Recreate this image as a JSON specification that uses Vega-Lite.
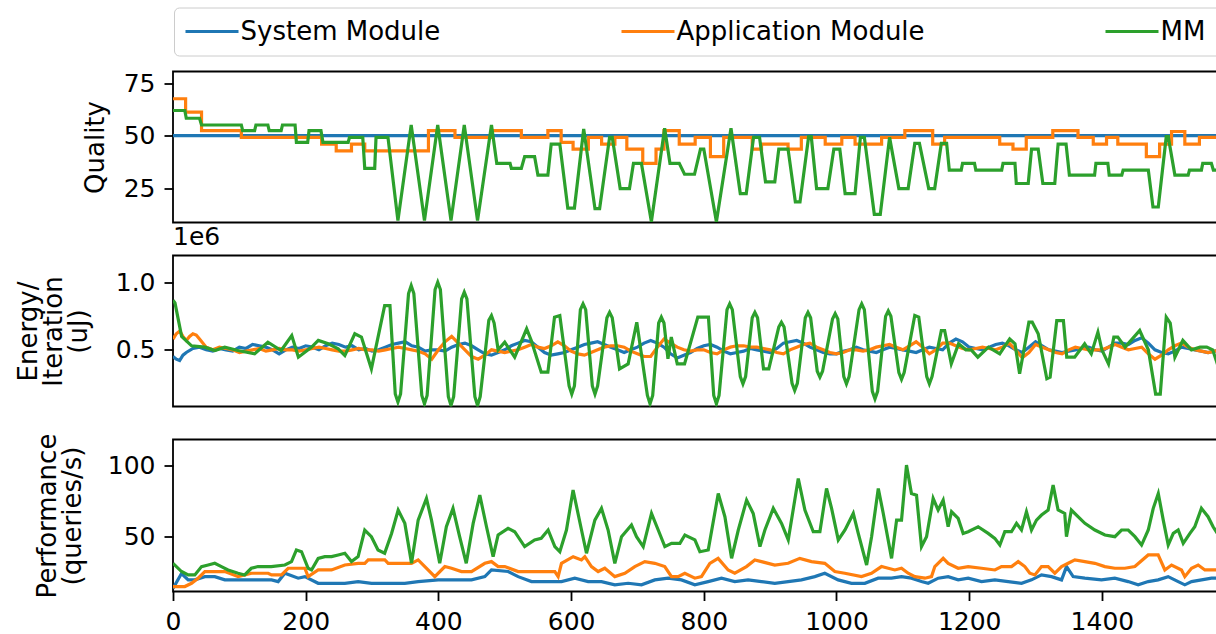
{
"$schema": "https://vega.github.io/schema/vega-lite/v6.json",
"background": "white",
"padding": {"left": 14, "top": 5.5, "right": 0, "bottom": 10},
"config": {
  "font": "DejaVu Sans",
  "view": {"stroke": "black", "strokeWidth": 1.8},
  "axis": {"labelFont": "DejaVu Sans", "labelFontSize": 25, "labelColor": "black", "titleFont": "DejaVu Sans", "titleFontSize": 26, "titleFontWeight": "normal", "titleColor": "black", "tickColor": "black", "tickSize": 9, "tickWidth": 1.8, "domain": false, "grid": false, "labelPadding": 9, "titlePadding": 14, "labelFlush": false, "labelOverlap": false},
  "line": {"strokeWidth": 3.2}
},
"bounds": "flush",
"spacing": 33,
"resolve": {"scale": {"color": "independent"}, "legend": {"color": "independent"}},
"datasets": {
  "qS": [{"x":0,"y":50},{"x":1600,"y":50}],
  "qA": [{"x":0,"y":67.6},{"x":19,"y":61.2},{"x":43,"y":52.4},{"x":103,"y":49.2},{"x":224,"y":46},{"x":246,"y":42.8},{"x":269,"y":46},{"x":289,"y":42.8},{"x":385,"y":52.4},{"x":425,"y":49.2},{"x":480,"y":52.4},{"x":525,"y":49.2},{"x":565,"y":52.4},{"x":585,"y":46.8},{"x":603,"y":43.6},{"x":626,"y":49.2},{"x":646,"y":46},{"x":666,"y":49.2},{"x":684,"y":43.6},{"x":708,"y":36.8},{"x":728,"y":43.6},{"x":740,"y":52.4},{"x":763,"y":46},{"x":787,"y":49.2},{"x":810,"y":40},{"x":830,"y":49.2},{"x":873,"y":43.6},{"x":887,"y":46},{"x":927,"y":43.6},{"x":947,"y":49.2},{"x":983,"y":46},{"x":1008,"y":49.2},{"x":1028,"y":46},{"x":1068,"y":49.2},{"x":1103,"y":52.4},{"x":1145,"y":46},{"x":1163,"y":49.2},{"x":1246,"y":46},{"x":1266,"y":43.6},{"x":1286,"y":49.2},{"x":1326,"y":52.4},{"x":1364,"y":49.2},{"x":1387,"y":46},{"x":1407,"y":49.2},{"x":1424,"y":46},{"x":1467,"y":40},{"x":1487,"y":46},{"x":1505,"y":52},{"x":1525,"y":46},{"x":1547,"y":49.2},{"x":1600,"y":49.2}],
  "qM": [{"x":0,"y":62},{"x":17.8,"y":62},{"x":20,"y":58.3},{"x":40,"y":58.3},{"x":43,"y":55.1},{"x":103,"y":55.1},{"x":105,"y":52.4},{"x":123,"y":52.4},{"x":125,"y":55.1},{"x":143,"y":55.1},{"x":145,"y":52.4},{"x":163,"y":52.4},{"x":165,"y":55.1},{"x":184,"y":55.1},{"x":186,"y":46.8},{"x":203,"y":46.8},{"x":205,"y":52.4},{"x":223,"y":52.4},{"x":226,"y":46.8},{"x":264,"y":46.8},{"x":266,"y":49.2},{"x":286,"y":49.2},{"x":289,"y":34.4},{"x":304,"y":34.4},{"x":306,"y":49.2},{"x":324,"y":49.2},{"x":339,"y":9.5},{"x":359,"y":55.1},{"x":379,"y":9.5},{"x":399,"y":55.1},{"x":419,"y":9.5},{"x":439,"y":55.1},{"x":459,"y":9.5},{"x":480,"y":55.1},{"x":488,"y":36.8},{"x":508,"y":36.8},{"x":510,"y":34.4},{"x":525,"y":34.4},{"x":530,"y":40},{"x":545,"y":40},{"x":550,"y":31.2},{"x":565,"y":31.2},{"x":570,"y":46},{"x":583,"y":46},{"x":595,"y":15.5},{"x":605,"y":15.5},{"x":619,"y":53.2},{"x":636,"y":15.2},{"x":643,"y":15.2},{"x":658,"y":49.2},{"x":662,"y":49.2},{"x":674,"y":24.8},{"x":688,"y":24.8},{"x":694,"y":36.8},{"x":706,"y":36.8},{"x":721,"y":9},{"x":741,"y":53.5},{"x":749,"y":36.8},{"x":763,"y":36.8},{"x":771,"y":31.6},{"x":786,"y":31.6},{"x":795,"y":43.6},{"x":800,"y":43.6},{"x":819,"y":9},{"x":841,"y":53.5},{"x":855,"y":22.4},{"x":864,"y":22.4},{"x":875,"y":49.2},{"x":884,"y":49.2},{"x":893,"y":28},{"x":907,"y":28},{"x":913,"y":43.6},{"x":927,"y":43.6},{"x":938,"y":18.4},{"x":945,"y":18.4},{"x":958,"y":49.5},{"x":962,"y":49.5},{"x":970,"y":24.8},{"x":987,"y":24.8},{"x":996,"y":43.6},{"x":1005,"y":43.6},{"x":1013,"y":22.4},{"x":1028,"y":22.4},{"x":1036,"y":49.2},{"x":1042,"y":49.2},{"x":1057,"y":12.5},{"x":1066,"y":12.5},{"x":1080,"y":49.2},{"x":1094,"y":24.8},{"x":1108,"y":24.8},{"x":1118,"y":46.3},{"x":1125,"y":46.3},{"x":1139,"y":24.8},{"x":1148,"y":24.8},{"x":1158,"y":46.3},{"x":1166,"y":46.3},{"x":1170,"y":33.6},{"x":1188,"y":33.6},{"x":1190,"y":36.8},{"x":1208,"y":36.8},{"x":1210,"y":33.6},{"x":1249,"y":33.6},{"x":1251,"y":36.8},{"x":1269,"y":36.8},{"x":1271,"y":27.2},{"x":1289,"y":27.2},{"x":1294,"y":43.6},{"x":1304,"y":43.6},{"x":1311,"y":27.2},{"x":1329,"y":27.2},{"x":1334,"y":46},{"x":1346,"y":46},{"x":1351,"y":31.2},{"x":1389,"y":31.2},{"x":1391,"y":36.8},{"x":1409,"y":36.8},{"x":1411,"y":31.2},{"x":1430,"y":31.2},{"x":1432,"y":33.6},{"x":1470,"y":33.6},{"x":1477,"y":16},{"x":1485,"y":16},{"x":1497,"y":49.5},{"x":1500,"y":49.5},{"x":1510,"y":31.2},{"x":1530,"y":31.2},{"x":1532,"y":33.6},{"x":1550,"y":33.6},{"x":1552,"y":36.8},{"x":1565,"y":36.8},{"x":1568,"y":33.6},{"x":1600,"y":33.6}],
  "eS": [{"x":0,"y":450000},{"x":5,"y":430000},{"x":10,"y":420000},{"x":15,"y":460000},{"x":20,"y":480000},{"x":30,"y":510000},{"x":40,"y":520000},{"x":50,"y":500000},{"x":60,"y":490000},{"x":70,"y":510000},{"x":80,"y":500000},{"x":90,"y":490000},{"x":100,"y":520000},{"x":110,"y":510000},{"x":120,"y":540000},{"x":130,"y":530000},{"x":140,"y":520000},{"x":150,"y":500000},{"x":160,"y":470000},{"x":170,"y":500000},{"x":180,"y":520000},{"x":190,"y":510000},{"x":200,"y":530000},{"x":210,"y":520000},{"x":220,"y":500000},{"x":230,"y":530000},{"x":240,"y":550000},{"x":250,"y":540000},{"x":260,"y":520000},{"x":270,"y":530000},{"x":280,"y":500000},{"x":290,"y":510000},{"x":300,"y":490000},{"x":310,"y":500000},{"x":320,"y":520000},{"x":330,"y":540000},{"x":340,"y":550000},{"x":350,"y":560000},{"x":360,"y":530000},{"x":370,"y":520000},{"x":380,"y":490000},{"x":390,"y":500000},{"x":400,"y":500000},{"x":410,"y":490000},{"x":420,"y":520000},{"x":430,"y":540000},{"x":440,"y":550000},{"x":450,"y":530000},{"x":460,"y":500000},{"x":470,"y":470000},{"x":480,"y":460000},{"x":490,"y":480000},{"x":500,"y":500000},{"x":510,"y":530000},{"x":520,"y":550000},{"x":530,"y":570000},{"x":540,"y":560000},{"x":550,"y":520000},{"x":560,"y":480000},{"x":570,"y":460000},{"x":580,"y":470000},{"x":590,"y":480000},{"x":600,"y":500000},{"x":610,"y":520000},{"x":620,"y":540000},{"x":630,"y":550000},{"x":640,"y":560000},{"x":650,"y":540000},{"x":660,"y":520000},{"x":670,"y":500000},{"x":680,"y":480000},{"x":690,"y":500000},{"x":700,"y":520000},{"x":710,"y":550000},{"x":720,"y":570000},{"x":730,"y":550000},{"x":740,"y":520000},{"x":750,"y":470000},{"x":760,"y":440000},{"x":770,"y":460000},{"x":780,"y":480000},{"x":790,"y":510000},{"x":800,"y":530000},{"x":810,"y":540000},{"x":820,"y":520000},{"x":830,"y":490000},{"x":840,"y":470000},{"x":850,"y":480000},{"x":860,"y":490000},{"x":870,"y":510000},{"x":880,"y":500000},{"x":890,"y":490000},{"x":900,"y":480000},{"x":910,"y":510000},{"x":920,"y":550000},{"x":930,"y":560000},{"x":940,"y":570000},{"x":950,"y":550000},{"x":960,"y":520000},{"x":970,"y":500000},{"x":980,"y":480000},{"x":990,"y":470000},{"x":1000,"y":470000},{"x":1010,"y":490000},{"x":1020,"y":500000},{"x":1030,"y":520000},{"x":1040,"y":500000},{"x":1050,"y":490000},{"x":1060,"y":480000},{"x":1070,"y":500000},{"x":1080,"y":520000},{"x":1090,"y":510000},{"x":1100,"y":500000},{"x":1110,"y":490000},{"x":1120,"y":480000},{"x":1130,"y":500000},{"x":1140,"y":520000},{"x":1150,"y":510000},{"x":1160,"y":500000},{"x":1170,"y":550000},{"x":1180,"y":580000},{"x":1190,"y":560000},{"x":1200,"y":520000},{"x":1210,"y":510000},{"x":1220,"y":500000},{"x":1230,"y":520000},{"x":1240,"y":540000},{"x":1250,"y":550000},{"x":1260,"y":530000},{"x":1270,"y":500000},{"x":1280,"y":480000},{"x":1290,"y":520000},{"x":1300,"y":560000},{"x":1310,"y":530000},{"x":1320,"y":500000},{"x":1330,"y":490000},{"x":1340,"y":480000},{"x":1350,"y":490000},{"x":1360,"y":500000},{"x":1370,"y":510000},{"x":1380,"y":520000},{"x":1390,"y":500000},{"x":1400,"y":490000},{"x":1410,"y":520000},{"x":1420,"y":550000},{"x":1430,"y":550000},{"x":1440,"y":540000},{"x":1450,"y":570000},{"x":1460,"y":590000},{"x":1470,"y":550000},{"x":1480,"y":500000},{"x":1490,"y":480000},{"x":1500,"y":470000},{"x":1510,"y":490000},{"x":1520,"y":520000},{"x":1530,"y":510000},{"x":1540,"y":500000},{"x":1550,"y":490000},{"x":1560,"y":480000},{"x":1570,"y":490000},{"x":1580,"y":500000},{"x":1600,"y":500000}],
  "eA": [{"x":0,"y":580000},{"x":5,"y":620000},{"x":10,"y":640000},{"x":15,"y":600000},{"x":20,"y":570000},{"x":25,"y":600000},{"x":30,"y":620000},{"x":35,"y":610000},{"x":40,"y":580000},{"x":50,"y":520000},{"x":60,"y":500000},{"x":70,"y":520000},{"x":80,"y":510000},{"x":90,"y":500000},{"x":100,"y":480000},{"x":110,"y":490000},{"x":120,"y":500000},{"x":130,"y":510000},{"x":140,"y":490000},{"x":150,"y":500000},{"x":160,"y":510000},{"x":170,"y":500000},{"x":180,"y":500000},{"x":190,"y":490000},{"x":200,"y":500000},{"x":210,"y":510000},{"x":220,"y":520000},{"x":230,"y":510000},{"x":240,"y":500000},{"x":250,"y":490000},{"x":260,"y":490000},{"x":270,"y":500000},{"x":280,"y":510000},{"x":290,"y":500000},{"x":300,"y":500000},{"x":310,"y":490000},{"x":320,"y":500000},{"x":330,"y":510000},{"x":340,"y":520000},{"x":350,"y":510000},{"x":360,"y":500000},{"x":370,"y":490000},{"x":380,"y":470000},{"x":390,"y":430000},{"x":400,"y":500000},{"x":410,"y":560000},{"x":420,"y":600000},{"x":430,"y":550000},{"x":440,"y":500000},{"x":450,"y":450000},{"x":460,"y":430000},{"x":470,"y":460000},{"x":480,"y":500000},{"x":490,"y":490000},{"x":500,"y":480000},{"x":510,"y":490000},{"x":520,"y":500000},{"x":530,"y":520000},{"x":540,"y":540000},{"x":550,"y":520000},{"x":560,"y":510000},{"x":570,"y":530000},{"x":580,"y":560000},{"x":590,"y":530000},{"x":600,"y":490000},{"x":610,"y":470000},{"x":620,"y":460000},{"x":630,"y":480000},{"x":640,"y":500000},{"x":650,"y":520000},{"x":660,"y":530000},{"x":670,"y":530000},{"x":680,"y":520000},{"x":690,"y":490000},{"x":700,"y":470000},{"x":710,"y":450000},{"x":720,"y":450000},{"x":730,"y":520000},{"x":740,"y":580000},{"x":750,"y":550000},{"x":760,"y":520000},{"x":770,"y":500000},{"x":780,"y":490000},{"x":790,"y":500000},{"x":800,"y":500000},{"x":810,"y":480000},{"x":820,"y":470000},{"x":830,"y":500000},{"x":840,"y":520000},{"x":850,"y":530000},{"x":860,"y":530000},{"x":870,"y":520000},{"x":880,"y":520000},{"x":890,"y":510000},{"x":900,"y":500000},{"x":910,"y":480000},{"x":920,"y":470000},{"x":930,"y":500000},{"x":940,"y":520000},{"x":950,"y":540000},{"x":960,"y":550000},{"x":970,"y":520000},{"x":980,"y":500000},{"x":990,"y":480000},{"x":1000,"y":470000},{"x":1010,"y":480000},{"x":1020,"y":500000},{"x":1030,"y":500000},{"x":1040,"y":490000},{"x":1050,"y":500000},{"x":1060,"y":520000},{"x":1070,"y":530000},{"x":1080,"y":540000},{"x":1090,"y":520000},{"x":1100,"y":500000},{"x":1110,"y":530000},{"x":1120,"y":560000},{"x":1130,"y":520000},{"x":1140,"y":470000},{"x":1150,"y":500000},{"x":1160,"y":550000},{"x":1170,"y":550000},{"x":1180,"y":530000},{"x":1190,"y":510000},{"x":1200,"y":500000},{"x":1210,"y":510000},{"x":1220,"y":520000},{"x":1230,"y":510000},{"x":1240,"y":500000},{"x":1250,"y":520000},{"x":1260,"y":550000},{"x":1270,"y":500000},{"x":1280,"y":440000},{"x":1290,"y":480000},{"x":1300,"y":540000},{"x":1310,"y":520000},{"x":1320,"y":500000},{"x":1330,"y":480000},{"x":1340,"y":470000},{"x":1350,"y":500000},{"x":1360,"y":520000},{"x":1370,"y":510000},{"x":1380,"y":500000},{"x":1390,"y":500000},{"x":1400,"y":500000},{"x":1410,"y":520000},{"x":1420,"y":540000},{"x":1430,"y":520000},{"x":1440,"y":500000},{"x":1450,"y":510000},{"x":1460,"y":520000},{"x":1470,"y":470000},{"x":1480,"y":430000},{"x":1490,"y":460000},{"x":1500,"y":500000},{"x":1510,"y":530000},{"x":1520,"y":550000},{"x":1530,"y":520000},{"x":1540,"y":500000},{"x":1550,"y":490000},{"x":1560,"y":480000},{"x":1570,"y":490000},{"x":1580,"y":500000},{"x":1600,"y":500000}],
  "eM": [{"x":0,"y":870000},{"x":3,"y":850000},{"x":13,"y":600000},{"x":28,"y":530000},{"x":48,"y":520000},{"x":63,"y":495000},{"x":78,"y":520000},{"x":98,"y":495000},{"x":123,"y":470000},{"x":143,"y":557000},{"x":163,"y":495000},{"x":179,"y":607000},{"x":189,"y":445000},{"x":209,"y":520000},{"x":219,"y":570000},{"x":234,"y":545000},{"x":249,"y":507000},{"x":259,"y":457000},{"x":274,"y":620000},{"x":284,"y":595000},{"x":299,"y":358000},{"x":319,"y":830000},{"x":327,"y":830000},{"x":335,"y":170000},{"x":339,"y":110000},{"x":343,"y":170000},{"x":355,"y":920000},{"x":359,"y":980000},{"x":363,"y":920000},{"x":375,"y":160000},{"x":379,"y":97000},{"x":383,"y":160000},{"x":395,"y":950000},{"x":399,"y":1005000},{"x":403,"y":950000},{"x":415,"y":150000},{"x":419,"y":85000},{"x":423,"y":150000},{"x":435,"y":880000},{"x":439,"y":930000},{"x":443,"y":880000},{"x":455,"y":150000},{"x":459,"y":85000},{"x":463,"y":150000},{"x":476,"y":720000},{"x":480,"y":756000},{"x":484,"y":700000},{"x":490,"y":500000},{"x":500,"y":557000},{"x":515,"y":445000},{"x":533,"y":657000},{"x":540,"y":570000},{"x":555,"y":333000},{"x":565,"y":333000},{"x":575,"y":744000},{"x":583,"y":756000},{"x":597,"y":230000},{"x":601,"y":170000},{"x":605,"y":230000},{"x":614,"y":800000},{"x":618,"y":843000},{"x":622,"y":800000},{"x":632,"y":230000},{"x":636,"y":170000},{"x":640,"y":230000},{"x":654,"y":740000},{"x":658,"y":780000},{"x":662,"y":740000},{"x":673,"y":358000},{"x":686,"y":395000},{"x":699,"y":706000},{"x":715,"y":160000},{"x":719,"y":97000},{"x":723,"y":160000},{"x":732,"y":700000},{"x":736,"y":744000},{"x":740,"y":700000},{"x":746,"y":433000},{"x":751,"y":595000},{"x":760,"y":395000},{"x":771,"y":395000},{"x":791,"y":744000},{"x":807,"y":744000},{"x":815,"y":160000},{"x":819,"y":97000},{"x":823,"y":160000},{"x":835,"y":800000},{"x":839,"y":843000},{"x":843,"y":800000},{"x":855,"y":300000},{"x":859,"y":246000},{"x":863,"y":300000},{"x":873,"y":740000},{"x":877,"y":780000},{"x":881,"y":740000},{"x":890,"y":358000},{"x":898,"y":358000},{"x":913,"y":670000},{"x":917,"y":706000},{"x":921,"y":670000},{"x":933,"y":250000},{"x":937,"y":197000},{"x":941,"y":250000},{"x":953,"y":740000},{"x":957,"y":780000},{"x":961,"y":740000},{"x":971,"y":340000},{"x":975,"y":296000},{"x":979,"y":340000},{"x":994,"y":730000},{"x":998,"y":770000},{"x":1002,"y":730000},{"x":1011,"y":300000},{"x":1015,"y":246000},{"x":1019,"y":300000},{"x":1034,"y":800000},{"x":1038,"y":843000},{"x":1042,"y":800000},{"x":1054,"y":190000},{"x":1058,"y":134000},{"x":1062,"y":190000},{"x":1074,"y":750000},{"x":1078,"y":790000},{"x":1082,"y":750000},{"x":1094,"y":330000},{"x":1098,"y":280000},{"x":1102,"y":330000},{"x":1118,"y":756000},{"x":1124,"y":744000},{"x":1136,"y":300000},{"x":1140,"y":246000},{"x":1144,"y":300000},{"x":1158,"y":644000},{"x":1163,"y":644000},{"x":1173,"y":395000},{"x":1184,"y":545000},{"x":1195,"y":500000},{"x":1203,"y":500000},{"x":1213,"y":445000},{"x":1229,"y":520000},{"x":1246,"y":470000},{"x":1261,"y":582000},{"x":1269,"y":545000},{"x":1276,"y":321000},{"x":1290,"y":706000},{"x":1295,"y":706000},{"x":1304,"y":620000},{"x":1317,"y":284000},{"x":1322,"y":296000},{"x":1332,"y":718000},{"x":1342,"y":718000},{"x":1347,"y":445000},{"x":1359,"y":445000},{"x":1374,"y":545000},{"x":1384,"y":470000},{"x":1394,"y":632000},{"x":1400,"y":500000},{"x":1410,"y":395000},{"x":1418,"y":595000},{"x":1424,"y":595000},{"x":1435,"y":520000},{"x":1457,"y":644000},{"x":1470,"y":500000},{"x":1481,"y":170000},{"x":1488,"y":170000},{"x":1497,"y":744000},{"x":1503,"y":700000},{"x":1510,"y":445000},{"x":1522,"y":570000},{"x":1535,"y":500000},{"x":1548,"y":520000},{"x":1558,"y":520000},{"x":1567,"y":500000},{"x":1574,"y":395000},{"x":1590,"y":400000},{"x":1600,"y":420000}],
  "pS": [{"x":0,"y":13.5},{"x":12.8,"y":24},{"x":22.9,"y":19.5},{"x":32.9,"y":19.5},{"x":48,"y":21.8},{"x":63,"y":21.8},{"x":78.1,"y":19.5},{"x":98.2,"y":19.5},{"x":148.5,"y":19.5},{"x":158.5,"y":18.3},{"x":168.6,"y":24.2},{"x":188.7,"y":20.7},{"x":198.7,"y":21.8},{"x":218.8,"y":17.1},{"x":259,"y":17.1},{"x":279.1,"y":18.3},{"x":299.2,"y":17.1},{"x":349.4,"y":17.1},{"x":369.5,"y":18.3},{"x":399.7,"y":19.5},{"x":449.9,"y":19.5},{"x":470,"y":21.8},{"x":480,"y":26.5},{"x":505.2,"y":25.4},{"x":520.2,"y":21.8},{"x":540.3,"y":18.3},{"x":575.5,"y":18.3},{"x":585.5,"y":18.3},{"x":605.6,"y":20.7},{"x":625.7,"y":18.3},{"x":645.8,"y":18.3},{"x":665.9,"y":16},{"x":686,"y":17.1},{"x":706.1,"y":16},{"x":726.2,"y":19.5},{"x":746.3,"y":20.7},{"x":766.4,"y":19.5},{"x":786.5,"y":16},{"x":806.6,"y":18.3},{"x":826.7,"y":20.7},{"x":846.7,"y":18.3},{"x":866.8,"y":19.5},{"x":886.9,"y":18.3},{"x":907,"y":17.1},{"x":927.1,"y":18.3},{"x":947.2,"y":19.5},{"x":967.3,"y":21.8},{"x":982.4,"y":24.2},{"x":1002.5,"y":19.5},{"x":1022.6,"y":17.1},{"x":1042.7,"y":17.1},{"x":1062.8,"y":20.7},{"x":1082.9,"y":20.7},{"x":1098,"y":21.8},{"x":1113,"y":20.7},{"x":1128.1,"y":18.3},{"x":1138.2,"y":17.1},{"x":1153.3,"y":20.7},{"x":1168.3,"y":21.8},{"x":1183.4,"y":19.5},{"x":1198.5,"y":20.7},{"x":1218.6,"y":18.3},{"x":1238.7,"y":19.5},{"x":1258.8,"y":18.3},{"x":1278.9,"y":17.1},{"x":1293.9,"y":19.5},{"x":1309,"y":23},{"x":1324.1,"y":21.8},{"x":1339.2,"y":19.5},{"x":1346.7,"y":28.9},{"x":1356.7,"y":21.8},{"x":1374.3,"y":20.7},{"x":1399.4,"y":19.5},{"x":1419.5,"y":20.7},{"x":1439.6,"y":18.3},{"x":1454.7,"y":16},{"x":1469.8,"y":18.3},{"x":1484.8,"y":19.5},{"x":1499.9,"y":21.8},{"x":1515,"y":18.3},{"x":1525,"y":16},{"x":1535.1,"y":18.3},{"x":1550.2,"y":19.5},{"x":1565.2,"y":20.7},{"x":1574.3,"y":20.7},{"x":1600,"y":20}],
  "pA": [{"x":0,"y":14.8},{"x":17.8,"y":14.8},{"x":27.9,"y":17.1},{"x":37.9,"y":20.7},{"x":48,"y":25.4},{"x":78.1,"y":25.4},{"x":98.2,"y":21.8},{"x":118.3,"y":24.2},{"x":143.4,"y":24.2},{"x":148.5,"y":23},{"x":163.5,"y":23},{"x":173.6,"y":27.7},{"x":198.7,"y":27.7},{"x":203.7,"y":21.8},{"x":218.8,"y":26.5},{"x":238.9,"y":26.5},{"x":259,"y":30},{"x":279.1,"y":31.2},{"x":289.1,"y":31.2},{"x":294.2,"y":33.6},{"x":319.3,"y":33.6},{"x":324.3,"y":31.2},{"x":359.5,"y":31.2},{"x":369.5,"y":33.6},{"x":394.6,"y":21.8},{"x":409.7,"y":28.9},{"x":419.8,"y":27.7},{"x":434.8,"y":25.4},{"x":449.9,"y":25.4},{"x":470,"y":31.2},{"x":480,"y":32.4},{"x":490.1,"y":28.9},{"x":500.1,"y":28.9},{"x":520.2,"y":25.4},{"x":575.5,"y":25.4},{"x":580.5,"y":21.8},{"x":585.5,"y":31.2},{"x":603.1,"y":35.9},{"x":615.6,"y":33.6},{"x":620.7,"y":35.9},{"x":630.7,"y":28.9},{"x":640.8,"y":25.4},{"x":650.8,"y":27.7},{"x":665.9,"y":21.8},{"x":681,"y":24.2},{"x":696,"y":28.9},{"x":711.1,"y":32.4},{"x":726.2,"y":31.2},{"x":741.2,"y":28.9},{"x":751.3,"y":21.8},{"x":761.3,"y":21.8},{"x":771.4,"y":24.2},{"x":786.5,"y":20.7},{"x":796.5,"y":21.8},{"x":809.1,"y":31.2},{"x":821.6,"y":34.7},{"x":836.7,"y":26.5},{"x":846.7,"y":24.2},{"x":864.3,"y":28.9},{"x":876.9,"y":33.6},{"x":886.9,"y":32.4},{"x":907,"y":30},{"x":927.1,"y":31.2},{"x":944.7,"y":34.7},{"x":962.3,"y":32.4},{"x":982.4,"y":31.2},{"x":997.5,"y":25.4},{"x":1012.5,"y":24.2},{"x":1037.7,"y":21.8},{"x":1052.7,"y":24.2},{"x":1067.8,"y":28.9},{"x":1087.9,"y":26.5},{"x":1098,"y":27.7},{"x":1108,"y":24.2},{"x":1118.1,"y":21.8},{"x":1133.2,"y":20.7},{"x":1143.2,"y":21.8},{"x":1148.2,"y":28.9},{"x":1160.8,"y":34.7},{"x":1168.3,"y":31.2},{"x":1183.4,"y":27.7},{"x":1198.5,"y":28.9},{"x":1218.6,"y":27.7},{"x":1238.7,"y":26.5},{"x":1248.7,"y":28.9},{"x":1263.8,"y":28.9},{"x":1273.8,"y":32.4},{"x":1283.9,"y":28.9},{"x":1291.4,"y":24.2},{"x":1299,"y":23},{"x":1309,"y":28.9},{"x":1319,"y":28.9},{"x":1329.1,"y":24.2},{"x":1339.2,"y":28.9},{"x":1349.2,"y":31.2},{"x":1359.2,"y":33.6},{"x":1374.3,"y":32.4},{"x":1389.4,"y":31.2},{"x":1404.5,"y":28.9},{"x":1419.5,"y":27.7},{"x":1434.6,"y":27.7},{"x":1449.7,"y":28.9},{"x":1469.8,"y":37.1},{"x":1484.8,"y":37.1},{"x":1494.9,"y":26.5},{"x":1505,"y":30},{"x":1520,"y":26.5},{"x":1525,"y":21.8},{"x":1535.1,"y":27.7},{"x":1545.1,"y":30},{"x":1555.2,"y":26.5},{"x":1574.3,"y":26.5},{"x":1600,"y":26}],
  "pM": [{"x":0,"y":31.2},{"x":12.8,"y":25.4},{"x":22.9,"y":23},{"x":32.9,"y":23},{"x":43,"y":28.9},{"x":53,"y":30},{"x":63,"y":31.2},{"x":73,"y":28.9},{"x":83,"y":26.5},{"x":98,"y":24.2},{"x":108,"y":23},{"x":118,"y":27.7},{"x":128,"y":28.9},{"x":148,"y":28.9},{"x":168.6,"y":30},{"x":178.6,"y":32.4},{"x":186,"y":40.6},{"x":193.7,"y":39.4},{"x":203.7,"y":27.7},{"x":208.8,"y":26.5},{"x":218.8,"y":34.7},{"x":228.8,"y":35.9},{"x":239,"y":35.9},{"x":249,"y":37.1},{"x":259,"y":38.3},{"x":269,"y":32.4},{"x":279,"y":35.9},{"x":289,"y":54.7},{"x":299,"y":50},{"x":309,"y":40.6},{"x":319,"y":38.3},{"x":329.4,"y":52.3},{"x":339.4,"y":68.8},{"x":349.4,"y":59.4},{"x":359.5,"y":31.2},{"x":369.5,"y":61.7},{"x":382,"y":77},{"x":389.6,"y":61.7},{"x":402,"y":31.2},{"x":412,"y":57},{"x":422,"y":70},{"x":432,"y":50},{"x":442,"y":31.2},{"x":452.4,"y":59.4},{"x":462.4,"y":79.3},{"x":472.5,"y":57},{"x":482.5,"y":35.9},{"x":490,"y":51.2},{"x":505,"y":55.9},{"x":515,"y":53.5},{"x":530,"y":43},{"x":545,"y":47.7},{"x":555,"y":48.8},{"x":565.4,"y":54.7},{"x":575.5,"y":43},{"x":583,"y":39.4},{"x":593,"y":54.7},{"x":603,"y":82.9},{"x":615.7,"y":54.7},{"x":623.2,"y":38.3},{"x":635.8,"y":61.7},{"x":645.8,"y":70},{"x":655.8,"y":54.7},{"x":665.9,"y":31.2},{"x":676,"y":50},{"x":691,"y":58.2},{"x":698.6,"y":50},{"x":708.7,"y":43},{"x":721.2,"y":66.4},{"x":731.3,"y":54.7},{"x":741.3,"y":43},{"x":751.4,"y":45.3},{"x":764,"y":45.3},{"x":771.5,"y":51.2},{"x":786.6,"y":47.7},{"x":794.1,"y":39.4},{"x":806.7,"y":40.6},{"x":821.8,"y":80.5},{"x":831.8,"y":64.1},{"x":841.9,"y":34.7},{"x":852,"y":54.7},{"x":864.5,"y":75.8},{"x":874.5,"y":66.4},{"x":884.6,"y":43},{"x":892.1,"y":54.7},{"x":904.7,"y":70},{"x":917.2,"y":59.4},{"x":927.3,"y":47.7},{"x":942.4,"y":91.1},{"x":952.4,"y":68.8},{"x":965,"y":53.5},{"x":975,"y":53.5},{"x":985,"y":84},{"x":992.6,"y":70},{"x":1002.7,"y":47.7},{"x":1012.8,"y":54.7},{"x":1025.3,"y":66.4},{"x":1032.8,"y":52.3},{"x":1045.4,"y":30},{"x":1052.9,"y":50},{"x":1063,"y":84},{"x":1070.5,"y":66.4},{"x":1083,"y":34.7},{"x":1090.6,"y":61.7},{"x":1098,"y":61.7},{"x":1105.5,"y":100.5},{"x":1113,"y":80.5},{"x":1120.6,"y":79.3},{"x":1128.1,"y":43},{"x":1135.7,"y":50},{"x":1145.7,"y":77},{"x":1153.2,"y":68.8},{"x":1160.8,"y":75.8},{"x":1168.3,"y":57},{"x":1173.4,"y":67.6},{"x":1183.4,"y":62.9},{"x":1190.9,"y":52.3},{"x":1198.4,"y":53.5},{"x":1213.5,"y":57},{"x":1228.6,"y":52.3},{"x":1238.6,"y":48.8},{"x":1246.2,"y":44.1},{"x":1253.7,"y":53.5},{"x":1263.7,"y":53.5},{"x":1271.3,"y":59.4},{"x":1278.8,"y":54.7},{"x":1286.3,"y":67.6},{"x":1293.9,"y":54.7},{"x":1301.4,"y":61.7},{"x":1309,"y":65.3},{"x":1319,"y":68.8},{"x":1326.5,"y":86.4},{"x":1334,"y":68.8},{"x":1344,"y":66.4},{"x":1346.6,"y":50},{"x":1354,"y":68.8},{"x":1364,"y":64.1},{"x":1374.4,"y":59.4},{"x":1389.4,"y":54.7},{"x":1404.6,"y":51.2},{"x":1419.6,"y":50},{"x":1429.6,"y":54.7},{"x":1439.7,"y":54.7},{"x":1449.8,"y":50},{"x":1459.8,"y":44.1},{"x":1469.9,"y":54.7},{"x":1477.4,"y":70},{"x":1485,"y":80.5},{"x":1492.5,"y":61.7},{"x":1500,"y":44.1},{"x":1507.6,"y":52.3},{"x":1515,"y":54.7},{"x":1522.6,"y":45.3},{"x":1532.7,"y":52.3},{"x":1540,"y":57},{"x":1550,"y":70},{"x":1560,"y":64.1},{"x":1567.6,"y":57},{"x":1574,"y":52.3},{"x":1590,"y":55},{"x":1600,"y":56}]
},
"vconcat": [
  {
    "width": 1045, "height": 151,
    "encoding": {
      "x": {"field": "x", "type": "quantitative", "scale": {"domain": [0, 1575], "nice": false, "zero": false}, "axis": null},
      "y": {"field": "y", "type": "quantitative", "scale": {"domain": [8.6, 80.6], "nice": false, "zero": false}, "axis": {"values": [25, 50, 75], "title": "Quality", "titlePadding": 15}}
    },
    "layer": [
      {"data": {"name": "qS"}, "mark": {"type": "line", "clip": true},
       "encoding": {"color": {"datum": "System Module", "type": "nominal",
         "scale": {"domain": ["System Module", "Application Module", "MM"], "range": ["#1f77b4", "#ff7f0e", "#2ca02c"]},
         "legend": {"orient": "none", "legendX": 1, "legendY": -64, "direction": "horizontal", "columns": 3, "gridAlign": "each",
           "title": "\u00a0", "titleOrient": "right", "titlePadding": 30, "titleFontSize": 26,
           "symbolType": "M-12.5,0H40.5", "symbolSize": 4, "symbolStrokeWidth": 3, "labelOffset": 29.5,
           "labelFont": "DejaVu Sans", "labelFontSize": 26, "labelColor": "black", "labelLimit": 0,
           "columnPadding": 174, "padding": 11, "strokeColor": "#cccccc", "fillColor": "white", "cornerRadius": 5}}}},
      {"data": {"name": "qA"}, "mark": {"type": "line", "clip": true, "interpolate": "step-after"},
       "encoding": {"color": {"datum": "Application Module", "type": "nominal"}}},
      {"data": {"name": "qM"}, "mark": {"type": "line", "clip": true},
       "encoding": {"color": {"datum": "MM", "type": "nominal"}}}
    ]
  },
  {
    "width": 1045, "height": 151,
    "title": {"text": "1e6", "anchor": "start", "frame": "group", "fontSize": 25, "fontWeight": "normal", "font": "DejaVu Sans", "color": "black", "offset": 6},
    "encoding": {
      "x": {"field": "x", "type": "quantitative", "scale": {"domain": [0, 1575], "nice": false, "zero": false}, "axis": null},
      "y": {"field": "y", "type": "quantitative", "scale": {"domain": [77000, 1204000], "nice": false, "zero": false},
            "axis": {"values": [500000, 1000000], "labelExpr": "format(datum.value/1000000, '.1f')", "title": ["Energy/", "Iteration", "(uJ)"], "titleLineHeight": 25, "titlePadding": 24}}
    },
    "layer": [
      {"data": {"name": "eS"}, "mark": {"type": "line", "clip": true},
       "encoding": {"color": {"datum": "System Module", "type": "nominal", "scale": {"domain": ["System Module", "Application Module", "MM"], "range": ["#1f77b4", "#ff7f0e", "#2ca02c"]}, "legend": null}}},
      {"data": {"name": "eA"}, "mark": {"type": "line", "clip": true},
       "encoding": {"color": {"datum": "Application Module", "type": "nominal"}}},
      {"data": {"name": "eM"}, "mark": {"type": "line", "clip": true},
       "encoding": {"color": {"datum": "MM", "type": "nominal"}}}
    ]
  },
  {
    "width": 1045, "height": 152,
    "encoding": {
      "x": {"field": "x", "type": "quantitative", "scale": {"domain": [0, 1575], "nice": false, "zero": false},
            "axis": {"values": [0, 200, 400, 600, 800, 1000, 1200, 1400], "format": "d", "title": null}},
      "y": {"field": "y", "type": "quantitative", "scale": {"domain": [11.3, 118.6], "nice": false, "zero": false},
            "axis": {"values": [50, 100], "title": ["Performance", "(queries/s)"], "titleLineHeight": 25, "titlePadding": 22}}
    },
    "layer": [
      {"data": {"name": "pS"}, "mark": {"type": "line", "clip": true},
       "encoding": {"color": {"datum": "System Module", "type": "nominal", "scale": {"domain": ["System Module", "Application Module", "MM"], "range": ["#1f77b4", "#ff7f0e", "#2ca02c"]}, "legend": null}}},
      {"data": {"name": "pA"}, "mark": {"type": "line", "clip": true},
       "encoding": {"color": {"datum": "Application Module", "type": "nominal"}}},
      {"data": {"name": "pM"}, "mark": {"type": "line", "clip": true},
       "encoding": {"color": {"datum": "MM", "type": "nominal"}}}
    ]
  }
]
}
